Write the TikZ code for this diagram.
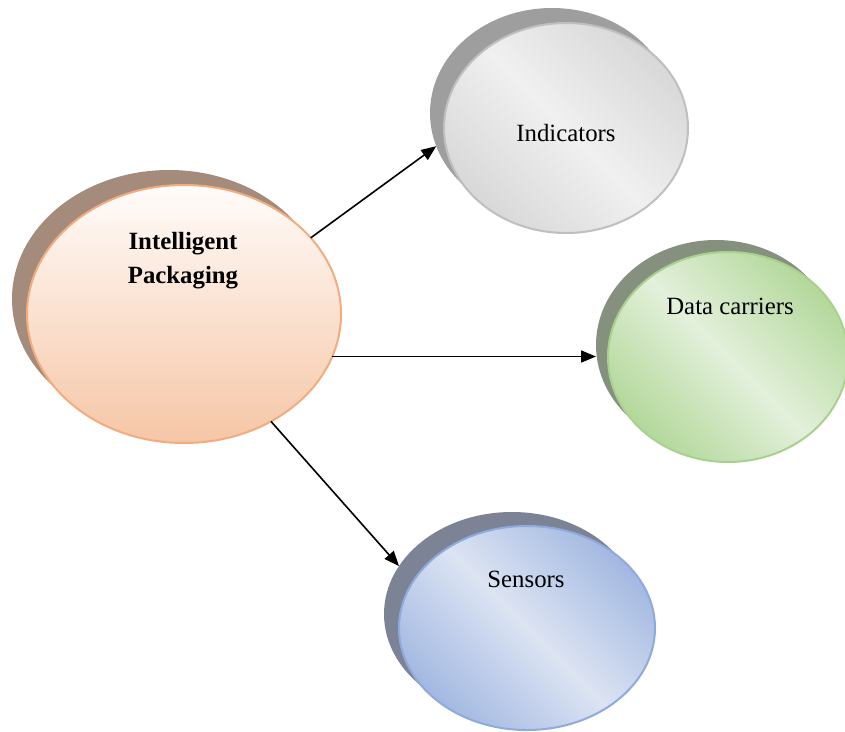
\documentclass[tikz,border=0pt]{standalone}
\usepackage{fontspec}
\setmainfont{Liberation Serif}
\usetikzlibrary{shapes.geometric,arrows.meta}
\definecolor{mainTop}{HTML}{FFFCFA}
\definecolor{mainBot}{HTML}{F6C6A6}
\definecolor{mainLine}{HTML}{F2AC7E}
\definecolor{mainShd}{HTML}{A48B7C}
\definecolor{indLight}{HTML}{F0F0F0}
\definecolor{indDark}{HTML}{D8D8D8}
\definecolor{indLine}{HTML}{BFBFBF}
\definecolor{indShd}{HTML}{9E9E9E}
\definecolor{datLight}{HTML}{E3F0DB}
\definecolor{datDark}{HTML}{B3D89A}
\definecolor{datLine}{HTML}{A9D18E}
\definecolor{datShd}{HTML}{86907F}
\definecolor{senLight}{HTML}{DCE4F3}
\definecolor{senDark}{HTML}{A3B8E1}
\definecolor{senLine}{HTML}{8FAADC}
\definecolor{senShd}{HTML}{7C8394}
\tikzset{
  blob/.style={ellipse, inner sep=0pt, outer sep=0pt, line width=2pt},
  shd/.style={ellipse, inner sep=0pt, outer sep=0pt},
  lbl/.style={font=\fontsize{24.8}{34}\selectfont, align=center, inner sep=0pt},
  arr/.style={line width=1.6pt, -{Triangle[length=15pt,width=12pt]}}
}
\begin{document}
\begin{tikzpicture}[x=1pt,y=-1pt]
\useasboundingbox (0,0) rectangle (845,731);
% shadows
\node[shd, fill=mainShd, minimum width=314pt, minimum height=258pt] (main-s) at (169,299) {};
\node[shd, fill=indShd, minimum width=244pt, minimum height=210pt] (ind-s) at (552,113) {};
\node[shd, fill=datShd, minimum width=240pt, minimum height=210pt] (dat-s) at (716,345) {};
\node[shd, fill=senShd, minimum width=256pt, minimum height=204pt] (sen-s) at (512,614) {};
% fronts
\node[blob, draw=mainLine, top color=mainTop, bottom color=mainBot, minimum width=314pt, minimum height=258pt] (main) at (184,314) {};
\node[blob, draw=indLine, top color=indDark, bottom color=indDark, middle color=indLight, shading angle=-45, minimum width=244pt, minimum height=210pt] (ind) at (566,128) {};
\node[blob, draw=datLine, top color=datDark, bottom color=datDark, middle color=datLight, shading angle=-45, minimum width=240pt, minimum height=210pt] (dat) at (728,357) {};
\node[blob, draw=senLine, top color=senDark, bottom color=senDark, middle color=senLight, shading angle=-45, minimum width=256pt, minimum height=204pt] (sen) at (527,628) {};
% labels
\node[lbl, font=\fontsize{24.8}{34}\selectfont\bfseries] (mainT) at (183,261) {Intelligent\\Packaging};
\node[lbl] (indT) at (566,133) {Indicators};
\node[lbl] (datT) at (730,306) {Data carriers};
\node[lbl] (senT) at (526,579) {Sensors};
% connectors
\draw[arr] (main.31) -- (ind-s.196);
\draw[arr] (main.344) -- (main.344 -| dat-s.west);
\draw[arr] (main.309) -- (sen-s.157);
\end{tikzpicture}
\end{document}
